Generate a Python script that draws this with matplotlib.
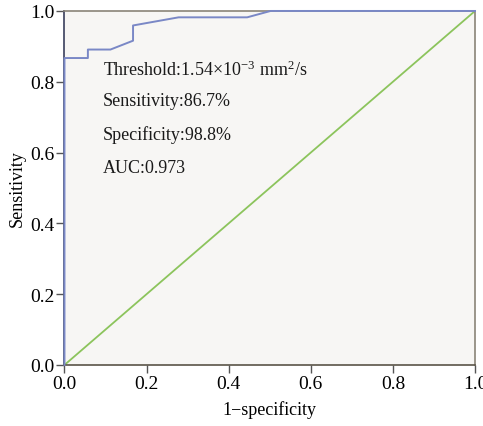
import matplotlib.pyplot as plt

# ROC curve points
fpr = [0.0, 0.0, 0.057, 0.057, 0.112, 0.167, 0.167, 0.278, 0.445, 0.502, 1.0]
tpr = [0.0, 0.867, 0.867, 0.891, 0.891, 0.916, 0.959, 0.982, 0.982, 1.0, 1.0]
ref_x = [0.0, 1.0]
ref_y = [0.0, 1.0]
ticks = [0.0, 0.2, 0.4, 0.6, 0.8, 1.0]
notes = ["Threshold:1.54\u00d710$^{-3}$ mm$^{2}$/s",
         "Sensitivity:86.7%",
         "Specificity:98.8%",
         "AUC:0.973"]

plt.rcParams['font.family'] = ['Liberation Serif', 'DejaVu Serif']
plt.rcParams['mathtext.fontset'] = 'custom'
plt.rcParams['mathtext.rm'] = 'Liberation Serif'
plt.rcParams['mathtext.it'] = 'Liberation Serif'

fig = plt.figure(figsize=(4.83, 4.27), dpi=100)
ax = fig.add_axes([0.1335, 0.143, 0.85, 0.829])
ax.set_facecolor('#f7f6f4')

ax.plot(ref_x, ref_y, color='#8cc45c', lw=1.3, zorder=2)
ax.plot(fpr, tpr, color='#7a88c6', lw=1.4, zorder=3, clip_on=False)

ax.set_xlim(0, 1)
ax.set_ylim(0, 1)
ax.set_xticks(ticks)
ax.set_yticks(ticks)
ax.set_xticklabels(['%.1f' % t for t in ticks], fontsize=14)
ax.set_yticklabels(['%.1f' % t for t in ticks], fontsize=14)
ax.tick_params(length=6, width=1, color='#555555', pad=1)

for s in ax.spines.values():
    s.set_color('#8a8478')
    s.set_linewidth(1.2)
ax.spines['left'].set_color('#3a3f5c')
ax.spines['bottom'].set_color('#5a5448')

ax.set_xlabel('1\u2212specificity', fontsize=13, labelpad=6)
ax.set_ylabel('Sensitivity', fontsize=13, labelpad=3)

ys = [0.836, 0.746, 0.653, 0.559]
for t, y in zip(notes, ys):
    ax.text(0.094, y, t, fontsize=13, va='center', ha='left', color='#1a1a1a')

fig.savefig('out.png', dpi=100)
